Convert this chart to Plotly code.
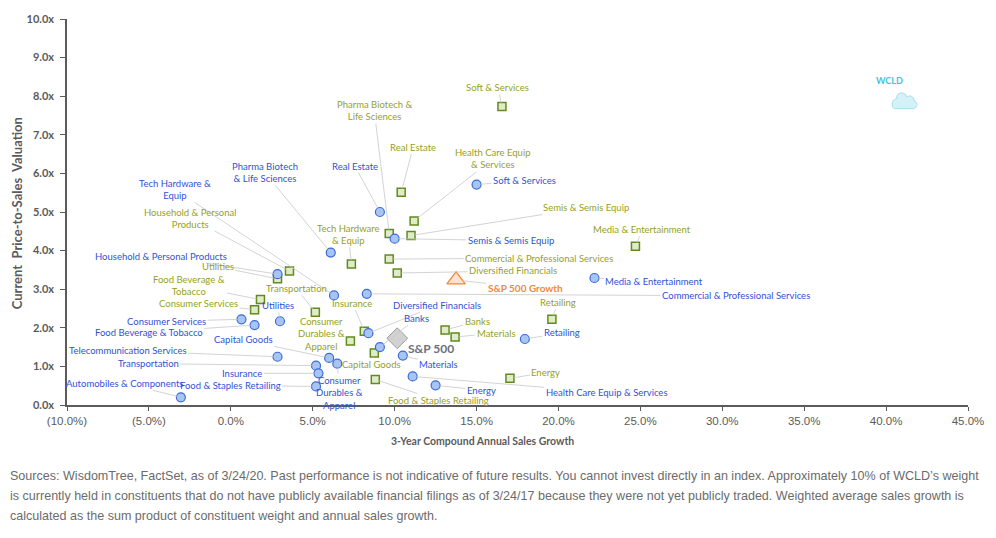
import plotly.graph_objects as go

# ---------------- data ----------------
blue_names = ["Soft & Services", "Real Estate", "Semis & Semis Equip", "Pharma Biotech & Life Sciences",
              "Media & Entertainment", "Commercial & Professional Services", "Tech Hardware & Equip",
              "Household & Personal Products", "Utilities", "Consumer Services", "Food Beverage & Tobacco",
              "Telecommunication Services", "Capital Goods", "Consumer Durables & Apparel", "Transportation",
              "Insurance", "Food & Staples Retailing", "Automobiles & Components", "Diversified Financials",
              "Banks", "Materials", "Health Care Equip & Services", "Energy", "Retailing"]
blue_labels = ["Soft & Services", "Real Estate", "Semis & Semis Equip", "Pharma Biotech<br>& Life Sciences",
               "Media & Entertainment", "Commercial & Professional Services", "Tech Hardware &<br>Equip",
               "Household & Personal Products", "Utilities", "Consumer Services", "Food Beverage & Tobacco",
               "Telecommunication Services", "Capital Goods", "Consumer<br>Durables &<br>Apparel", "Transportation",
               "Insurance", "Food & Staples Retailing", "Automobiles & Components", "Diversified Financials",
               "Banks", "Materials", "Health Care Equip & Services", "Energy", "Retailing"]
blue_growth = [15.0, 9.1, 10.0, 6.1, 22.2, 8.3, 6.3, 2.85, 3.0, 0.65, 1.45, 2.85, 6.0, 6.5, 5.2,
               5.35, 5.2, -3.05, 8.4, 9.1, 10.5, 11.1, 12.5, 17.95]
blue_ps = [5.71, 5.0, 4.31, 3.95, 3.29, 2.88, 2.84, 3.39, 2.17, 2.22, 2.07, 1.25, 1.22, 1.07, 1.02,
           0.82, 0.48, 0.2, 1.86, 1.5, 1.28, 0.74, 0.51, 1.71]

green_names = ["Soft & Services", "Pharma Biotech & Life Sciences", "Real Estate", "Health Care Equip & Services",
               "Semis & Semis Equip", "Media & Entertainment", "Commercial & Professional Services",
               "Diversified Financials", "Tech Hardware & Equip", "Household & Personal Products", "Utilities",
               "Food Beverage & Tobacco", "Consumer Services", "Transportation", "Insurance",
               "Consumer Durables & Apparel", "Capital Goods", "Food & Staples Retailing", "Banks", "Materials",
               "Retailing", "Energy"]
green_labels = ["Soft & Services", "Pharma Biotech &<br>Life Sciences", "Real Estate", "Health Care Equip<br>& Services",
                "Semis & Semis Equip", "Media & Entertainment", "Commercial & Professional Services",
                "Diversified Financials", "Tech Hardware<br>& Equip", "Household & Personal<br>Products", "Utilities",
                "Food Beverage &<br>Tobacco", "Consumer Services", "Transportation", "Insurance",
                "Consumer<br>Durables &<br>Apparel", "Capital Goods", "Food & Staples Retailing", "Banks", "Materials",
                "Retailing", "Energy"]
green_growth = [16.55, 9.67, 10.4, 11.19, 11.0, 24.7, 9.67, 10.16, 7.36, 3.58, 2.85, 1.81, 1.45, 5.16,
                8.15, 7.3, 8.76, 8.82, 13.08, 13.69, 19.6, 17.04]
green_ps = [7.73, 4.44, 5.51, 4.77, 4.39, 4.11, 3.78, 3.42, 3.65, 3.47, 3.27, 2.73, 2.47, 2.40,
            1.91, 1.66, 1.35, 0.66, 1.94, 1.76, 2.22, 0.69]

sp500_growth, sp500_ps = [10.16], [1.73]
spg_growth, spg_ps = [13.75], [3.24]
wcld_growth, wcld_ps = [41.1], [7.86]

x_tickvals = [-10, -5, 0, 5, 10, 15, 20, 25, 30, 35, 40, 45]
x_ticktext = ["(10.0%)", "(5.0%)", "0.0%", "5.0%", "10.0%", "15.0%", "20.0%", "25.0%", "30.0%",
              "35.0%", "40.0%", "45.0%"]
y_tickvals = [0, 1, 2, 3, 4, 5, 6, 7, 8, 9, 10]
y_ticktext = ["0.0x", "1.0x", "2.0x", "3.0x", "4.0x", "5.0x", "6.0x", "7.0x", "8.0x", "9.0x", "10.0x"]

footnote = [
    "Sources: WisdomTree, FactSet, as of 3/24/20. Past performance is not indicative of future results. You cannot invest directly in an index. Approximately 10% of WCLD\u2019s weight",
    "is currently held in constituents that do not have publicly available financial filings as of 3/24/17 because they were not yet publicly traded. Weighted average sales growth is",
    "calculated as the sum product of constituent weight and annual sales growth.",
]

# ---------------- label layout (pixel offsets of label centre from its point) ----------------
blue_offsets = [(48, -4), (-25, -46), (116, 2), (-66, -80), (60, 3), (369, 2), (-159, -106),
                (-117, -18), (-2, -16), (-75, 2), (-106, 7), (-150, -6), (-86, -18), (2, 29),
                (-168, -2), (-76, 0), (-86, -1), (-56, -14), (69, -28), (37, -29), (36, 9),
                (194, 16), (46, 5), (37, -6)]
green_offsets = [(-4, -19), (-15, -123), (12, -45), (79, -62), (175, -28), (7, -17), (150, -1),
                 (116, -2), (-3, -30), (-99, -53), (-60, -12), (-71, -14), (-56, -6), (-19, -24),
                 (-12, -28), (-29, -7), (-3, 12), (63, 21), (32, -9), (41, -4), (6, -17), (36, -6)]

# cloud glyph outline, in pixels around its anchor (y up)
CLOUD_PATH = ("M -9,-7 L 9,-7 C 13.5,-7 14,0 10,0.5 C 10,5.5 5,7 3,4.5 "
              "C 1,10.5 -8,10 -7.5,3 C -12.5,3 -13.5,-7 -9,-7 Z")

BLUE_TXT = "#2f52d4"
GREEN_TXT = "#949f1e"
LEADER = "#c8c8c8"
AXIS = "#5b5b5b"
LABEL_FONT = "Lato, Liberation Sans, sans-serif"
SANS = "Liberation Sans, Arial, sans-serif"

fig = go.Figure()
fig.add_trace(go.Scatter(x=green_growth, y=green_ps, mode="markers", name="S&P 500 Growth industry groups",
                         text=green_names, hoverinfo="text+x+y",
                         marker=dict(symbol="square", size=8, color="#e2ebc8",
                                     line=dict(color="#5f8c1e", width=1.5))))
fig.add_trace(go.Scatter(x=blue_growth, y=blue_ps, mode="markers", name="S&P 500 industry groups",
                         text=blue_names, hoverinfo="text+x+y",
                         marker=dict(symbol="circle", size=9, color="#a8c4f2",
                                     line=dict(color="#3a6cd6", width=1.2))))
fig.add_trace(go.Scatter(x=sp500_growth, y=sp500_ps, mode="markers", name="S&P 500",
                         marker=dict(symbol="diamond", size=16, color="#d2d2d2",
                                     line=dict(color="#9c9c9c", width=1))))
fig.add_trace(go.Scatter(x=spg_growth, y=spg_ps, mode="markers", name="S&P 500 Growth",
                         marker=dict(symbol="triangle-up", size=16, color="#fde3cf",
                                     line=dict(color="#f4873b", width=1.3))))
fig.add_trace(go.Scatter(x=wcld_growth, y=wcld_ps, mode="markers", name="WCLD",
                         marker=dict(size=1, color="rgba(0,0,0,0)")))

shapes = [dict(type="path", xref="x", yref="y", xsizemode="pixel", ysizemode="pixel",
               xanchor=wcld_growth[0], yanchor=wcld_ps[0], path=CLOUD_PATH,
               fillcolor="#d3f1f6", line=dict(color="#a6dfe9", width=1), layer="above")]

annotations = []
for gx, gy, lab, (dx, dy) in zip(blue_growth, blue_ps, blue_labels, blue_offsets):
    annotations.append(dict(x=gx, y=gy, xref="x", yref="y", text=lab, showarrow=True, arrowhead=0,
                            arrowwidth=0.8, arrowcolor=LEADER, standoff=4, ax=dx, ay=dy,
                            font=dict(family=LABEL_FONT, size=9.5, color=BLUE_TXT), align="center"))
for gx, gy, lab, (dx, dy) in zip(green_growth, green_ps, green_labels, green_offsets):
    annotations.append(dict(x=gx, y=gy, xref="x", yref="y", text=lab, showarrow=True, arrowhead=0,
                            arrowwidth=0.8, arrowcolor=LEADER, standoff=4, ax=dx, ay=dy,
                            font=dict(family=LABEL_FONT, size=9.5, color=GREEN_TXT), align="center"))
annotations.append(dict(x=sp500_growth[0], y=sp500_ps[0], text="S&P 500", showarrow=True, arrowhead=0,
                        arrowwidth=0.8, arrowcolor=LEADER, standoff=7, ax=34, ay=10,
                        font=dict(family=LABEL_FONT, size=12, color="#6a707c", weight="bold")))
annotations.append(dict(x=spg_growth[0], y=spg_ps[0], text="S&P 500 Growth", showarrow=True, arrowhead=0,
                        arrowwidth=0.8, arrowcolor=LEADER, standoff=7, ax=69, ay=8,
                        font=dict(family=LABEL_FONT, size=10, color="#f4873b", weight="bold")))
annotations.append(dict(x=wcld_growth[0], y=wcld_ps[0], text="WCLD", showarrow=False,
                        xshift=-15, yshift=21,
                        font=dict(family=LABEL_FONT, size=9, color="#3cc6da", weight="bold")))

# axis titles
annotations.append(dict(xref="paper", yref="paper", x=0.4607, y=-0.0944, text="3-Year Compound Annual Sales Growth",
                        showarrow=False, xanchor="center", yanchor="middle",
                        font=dict(family=LABEL_FONT, size=10.5, color=AXIS, weight="bold")))
annotations.append(dict(xref="paper", yref="paper", x=-0.0554, y=0.497, text="Current  Price-to-Sales  Valuation",
                        showarrow=False, xanchor="center", yanchor="middle", textangle=-90,
                        font=dict(family=LABEL_FONT, size=13, color=AXIS, weight="bold")))
# footnote
for i, line in enumerate(footnote):
    annotations.append(dict(xref="paper", yref="paper", x=-0.0653, y=(405 - (477 + 20.5 * i)) / 392,
                            text=line, showarrow=False, xanchor="left", yanchor="middle",
                            font=dict(family=SANS, size=12.55, color="#6b6b6b")))

fig.update_layout(
    width=996, height=538,
    margin=dict(l=67, r=26, t=13, b=133),
    paper_bgcolor="white", plot_bgcolor="white",
    showlegend=False,
    shapes=shapes,
    annotations=annotations,
    xaxis=dict(range=[-10, 45], tickvals=x_tickvals, ticktext=x_ticktext, showgrid=False, zeroline=False,
               showline=True, linecolor=AXIS, linewidth=1.5, ticks="outside", ticklen=4, tickcolor=AXIS,
               tickfont=dict(family=SANS, size=11.5, color=AXIS)),
    yaxis=dict(range=[0, 10], tickvals=y_tickvals, ticktext=y_ticktext, showgrid=False, zeroline=False,
               showline=True, linecolor=AXIS, linewidth=1.5, ticks="outside", ticklen=5, tickcolor=AXIS,
               ticklabelstandoff=4,
               tickfont=dict(family=LABEL_FONT, size=11, color=AXIS, weight="bold")),
)

fig.write_html("out.html")
